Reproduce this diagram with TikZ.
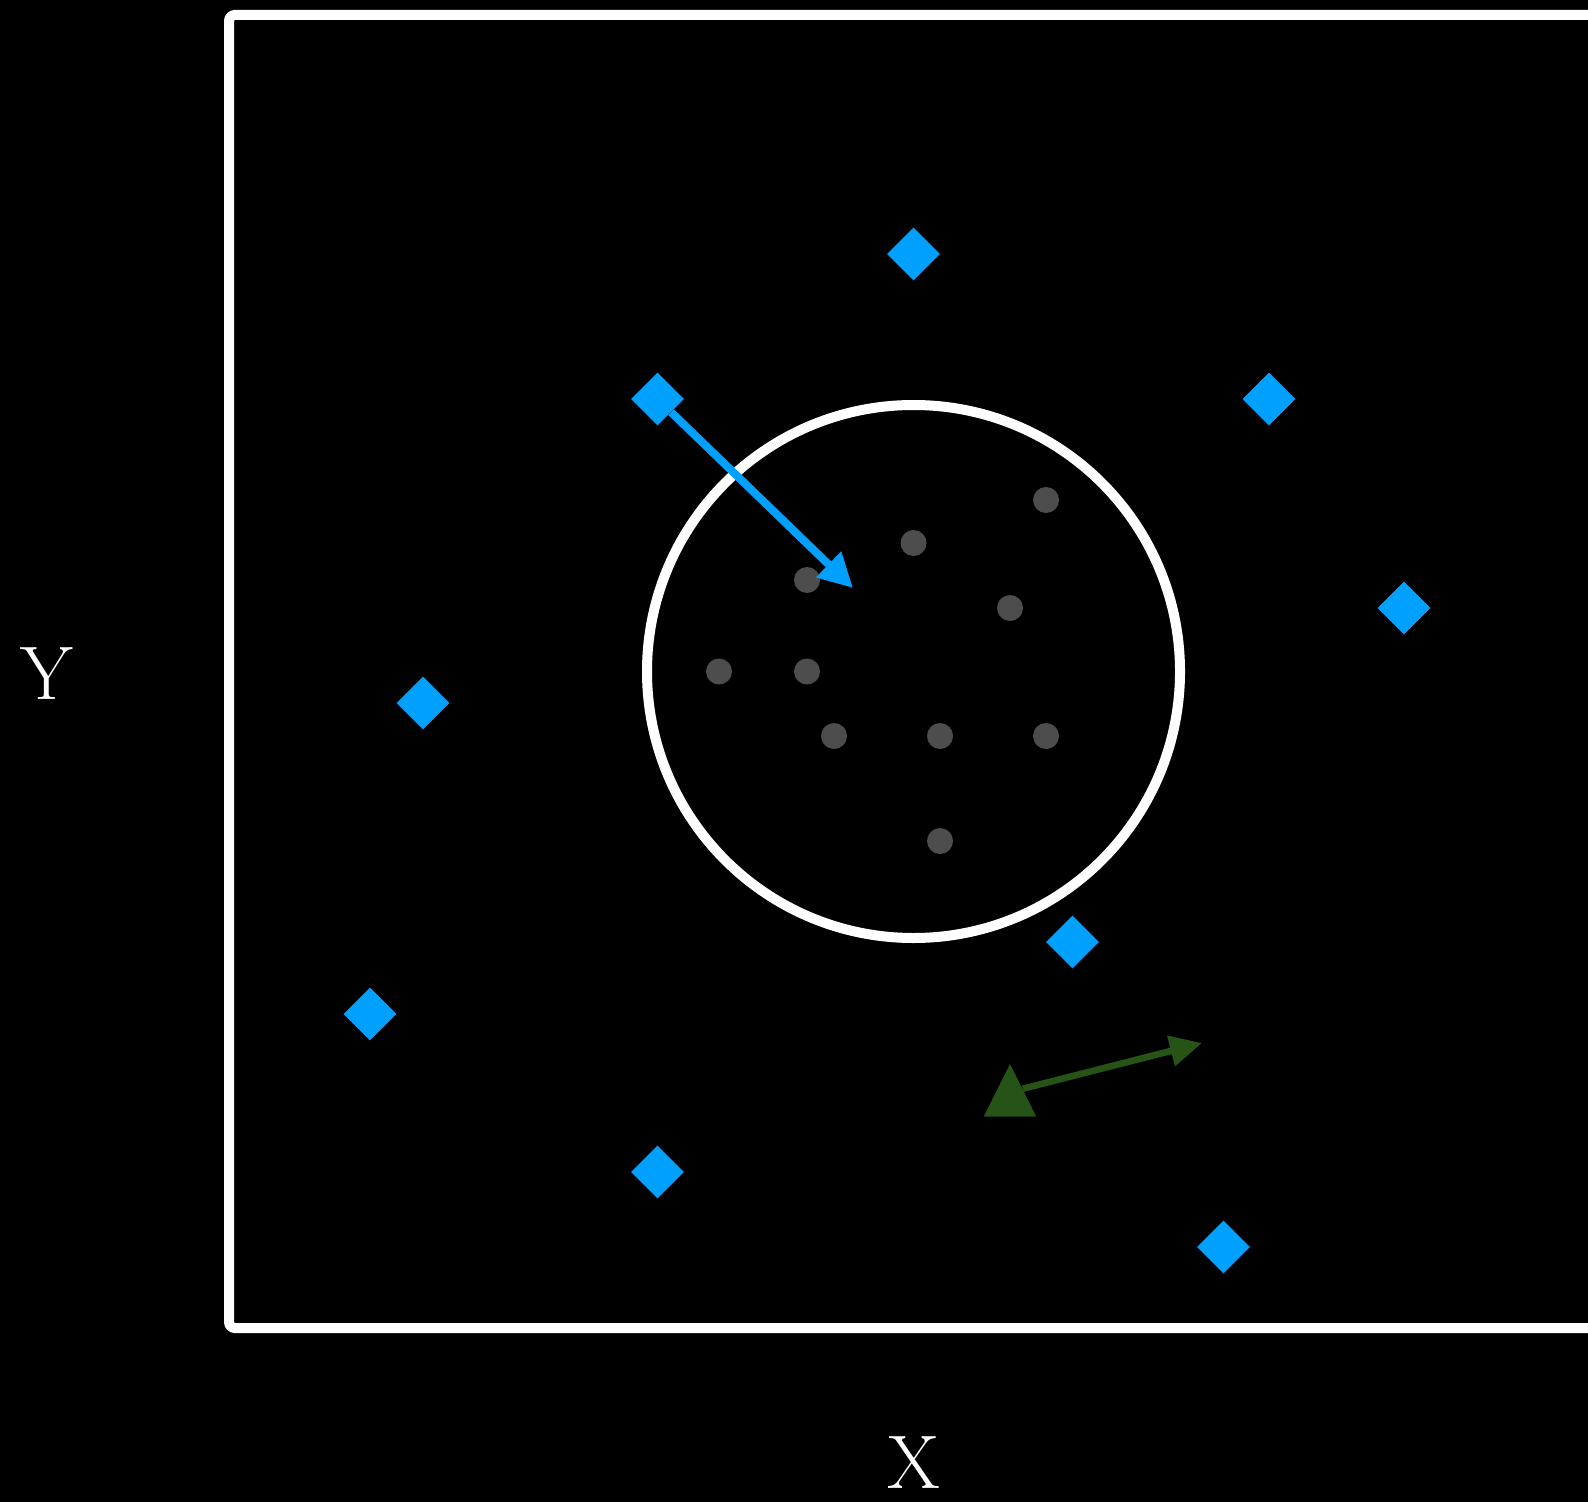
\documentclass[tikz,border=0pt]{standalone}
\usepackage{xcolor}
\usepackage{tikz}
\usetikzlibrary{arrows.meta, positioning, shapes.geometric}

\definecolor{targetblue}{RGB}{0,160,255}
\definecolor{dotgray}{RGB}{77,77,77}
\definecolor{agentgreen}{RGB}{38,84,22}

\begin{document}
\begin{tikzpicture}[
  x=0.5pt, y=-0.5pt,
  target/.style={
    diamond, fill=targetblue,
    inner sep=0pt, minimum size=26.5pt},
  particle/.style={
    circle, fill=dotgray,
    inner sep=0pt, minimum size=13pt},
  agent/.style={
    isosceles triangle, shape border rotate=90,
    isosceles triangle stretches, fill=agentgreen,
    inner sep=0pt, minimum width=26.3pt, minimum height=26.3pt},
  lbl/.style={text=white, font=\fontsize{38}{40}\selectfont},
  arr/.style={-{Triangle[length=17pt,width=17pt]}, line width=4pt, draw=targetblue},
  garr/.style={-{Triangle[length=16pt,width=15pt]}, line width=3.3pt, draw=agentgreen}
]

%% Canvas
\fill[black] (0,0) rectangle (1588,1502);
\useasboundingbox (0,0) rectangle (1588,1502);

%% Arena frame and range circle
\draw[white, line width=5pt, rounded corners=3pt]
  (1650,15) -| (229,1328) -- (1650,1328);
\draw[white, line width=5pt] (913.5,671.5) circle (266.5);

%% Particles
\node[particle] (p1)  at (1046,500) {};
\node[particle] (p2)  at (913.5,543) {};
\node[particle] (p3)  at (807,580) {};
\node[particle] (p4)  at (1010,608) {};
\node[particle] (p5)  at (719,671.5) {};
\node[particle] (p6)  at (807,671.5) {};
\node[particle] (p7)  at (834,736) {};
\node[particle] (p8)  at (940,736) {};
\node[particle] (p9)  at (1046,736) {};
\node[particle] (p10) at (940,841) {};

%% Targets
\node[target] (t1) at (913.5,254) {};
\node[target] (t2) at (657.5,399) {};
\node[target] (t3) at (1269,399) {};
\node[target] (t4) at (1404,608) {};
\node[target] (t5) at (423,703) {};
\node[target] (t6) at (370,1014) {};
\node[target] (t7) at (1072.5,942) {};
\node[target] (t8) at (657.5,1172) {};
\node[target] (t9) at (1223.5,1247) {};

%% Agent
\node[agent, anchor=apex] (agent) at (1010,1063) {};

%% Headings
\coordinate (aim)     at (853,588);
\coordinate (heading) at (1202,1043);
\draw[arr]  (t2) -- (aim);
\draw[garr, shorten <=6.5pt] ([yshift=-14.5pt]agent.apex) -- (heading);

%% Axis labels
\node[lbl] (ylbl) at (47,674) {Y};
\node[lbl] (xlbl) at (913.5,1463) {X};

\end{tikzpicture}
\end{document}
